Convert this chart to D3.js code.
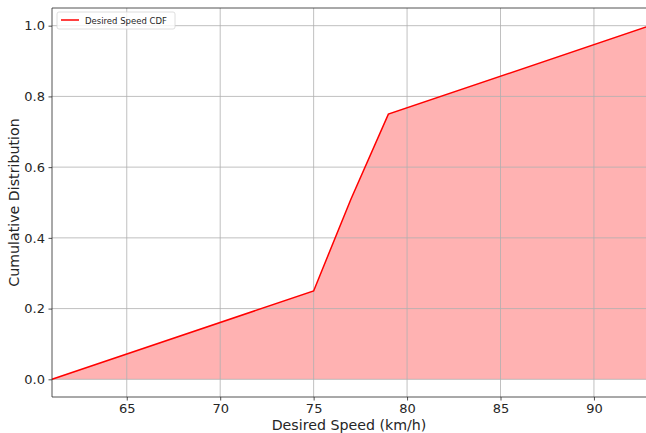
<!DOCTYPE html>
<html>
<head>
<meta charset="utf-8">
<script src="https://cdn.jsdelivr.net/npm/d3@7"></script>
<style>
  html, body { margin: 0; padding: 0; background: #fff; overflow: hidden; }
  svg { display: block; font-family: "DejaVu Sans", sans-serif; }
</style>
</head>
<body>
<svg id="chart" width="646" height="433"></svg>
<script>
// Desired speed distribution (piecewise-linear CDF)
const speeds = [61, 75, 77, 79, 93];
const cdf = [0, 0.25, 0.51, 0.75, 1.0];
const xTicks = [65, 70, 75, 80, 85, 90];
const yTicks = [0.0, 0.2, 0.4, 0.6, 0.8, 1.0];
const seriesLabel = "Desired Speed CDF";
const xLabel = "Desired Speed (km/h)";
const yLabel = "Cumulative Distribution";

const points = speeds.map((s, i) => ({ s, p: cdf[i] }));

const svg = d3.select("#chart");
const plotL = 52, plotR = 650, plotT = 8, plotB = 397;

const x = d3.scaleLinear().domain([61, 93]).range([plotL, plotR]);
const y = d3.scaleLinear().domain([-0.05, 1.05]).range([plotB, plotT]);

// filled area under the CDF
svg.append("path")
  .datum(points)
  .attr("fill", "#ff0000")
  .attr("fill-opacity", 0.3)
  .attr("d", d3.area().x(d => x(d.s)).y0(y(0)).y1(d => y(d.p)));

// grid (drawn above the fill)
const grid = svg.append("g").attr("stroke", "#b0b0b0").attr("stroke-width", 0.8);
xTicks.forEach(t => grid.append("line")
  .attr("x1", x(t)).attr("x2", x(t)).attr("y1", plotT).attr("y2", plotB));
yTicks.forEach(t => grid.append("line")
  .attr("x1", plotL).attr("x2", plotR).attr("y1", y(t)).attr("y2", y(t)));

// CDF line
svg.append("path")
  .datum(points)
  .attr("fill", "none")
  .attr("stroke", "#ff0000")
  .attr("stroke-width", 1.5)
  .attr("d", d3.line().x(d => x(d.s)).y(d => y(d.p)));

// axes
const xAxis = svg.append("g")
  .attr("transform", `translate(0,${plotB})`)
  .call(d3.axisBottom(x).tickValues(xTicks).tickFormat(d3.format("d")).tickSizeOuter(0).tickSize(3.5).tickPadding(3.5));
const yAxis = svg.append("g")
  .attr("transform", `translate(${plotL},0)`)
  .call(d3.axisLeft(y).tickValues(yTicks).tickFormat(d3.format(".1f")).tickSizeOuter(0).tickSize(3.5).tickPadding(3.5));
[xAxis, yAxis].forEach(a => {
  a.selectAll("text").attr("font-size", 13).attr("fill", "#262626").attr("font-family", "DejaVu Sans");
  a.selectAll(".tick line").attr("stroke", "#262626").attr("stroke-width", 0.8);
  a.select(".domain").remove();
});

// frame
const frame = svg.append("g").attr("stroke", "#262626").attr("stroke-width", 0.8).attr("fill", "none");
frame.append("line").attr("x1", plotL).attr("x2", plotL).attr("y1", plotT).attr("y2", plotB);
frame.append("line").attr("x1", plotL).attr("x2", plotR).attr("y1", plotB).attr("y2", plotB);
frame.append("line").attr("x1", plotL).attr("x2", plotR).attr("y1", plotT).attr("y2", plotT);
frame.append("line").attr("x1", plotR).attr("x2", plotR).attr("y1", plotT).attr("y2", plotB);

// axis titles
svg.append("text")
  .attr("x", (plotL + plotR) / 2 - 2).attr("y", 430)
  .attr("text-anchor", "middle").attr("font-size", 14.2).attr("fill", "#262626")
  .text(xLabel);
svg.append("text")
  .attr("transform", `translate(19,${(plotT + plotB) / 2}) rotate(-90)`)
  .attr("text-anchor", "middle").attr("font-size", 14.2).attr("fill", "#262626")
  .text(yLabel);

// legend
const lg = svg.append("g").attr("transform", `translate(57,12)`);
lg.append("rect").attr("width", 118).attr("height", 17).attr("rx", 2)
  .attr("fill", "#fff").attr("fill-opacity", 0.8).attr("stroke", "#d6d6d6").attr("stroke-width", 0.8);
lg.append("line").attr("x1", 4).attr("x2", 22).attr("y1", 8).attr("y2", 8)
  .attr("stroke", "#ff0000").attr("stroke-width", 1.5);
lg.append("text").attr("x", 28).attr("y", 11.5).attr("font-size", 8.5).attr("fill", "#262626")
  .text(seriesLabel);
</script>
</body>
</html>
